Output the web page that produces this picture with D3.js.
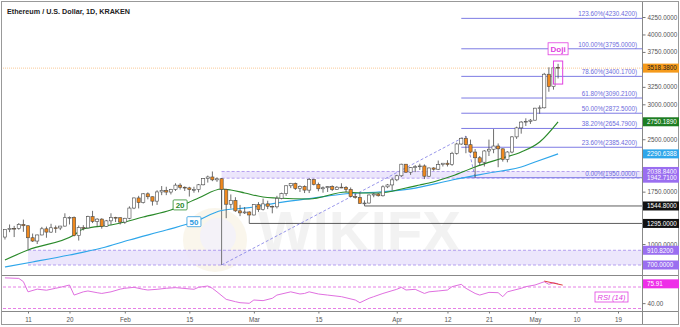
<!DOCTYPE html>
<html>
<head>
<meta charset="utf-8">
<script src="https://cdn.jsdelivr.net/npm/d3@7"></script>
<style>
  html, body { margin: 0; padding: 0; background: #fff; }
  svg { display: block; font-family: "Liberation Sans", Arial, sans-serif; }
</style>
</head>
<body>
<svg id="chart" width="680" height="327"></svg>
<script>
// ---- Daily ETH/USD candles, first candle on startDate, one per day ----
const startDate = "2021-01-06";
const opens = [
  1100,1208,1225,1224,1281,1262,1090,1043,1130,1218,1171,1233,1230,1257,1377,1382,1121,1236,1231,1392,1324,1357,1253,1332,1382,1377,
  1314,1369,1515,1660,1594,1719,1677,1614,1746,1769,1744,1783,1843,1813,1804,1779,1781,1848,1938,1960,1919,1935,1781,1570,1626,1475,1446,1459,
  1416,1564,1492,1575,1541,1533,1654,1723,1834,1868,1795,1825,1772,1924,1854,1791,1806,1823,1782,1814,1812,1782,1681,1668,1582,1587,1702,1716,1691,1819,1846,
  1919,1977,2143,2028,2093,2107,2118,1971,2089,2071,2136,2157,2139,2299,2432,2514,2422,2317,2235,2171,2332,2357,2403,2363,2211,2317,2534,2663,2746,2757,
  2773,2945,2950,3431,3253,3530
];
const highs = [
  1210,1280,1260,1300,1350,1265,1150,1135,1245,1250,1290,1265,1260,1440,1395,1395,1265,1270,1405,1475,1370,1370,1345,1440,1390,1380,
  1375,1540,1665,1690,1730,1740,1680,1770,1830,1820,1790,1870,1870,1825,1820,1820,1860,1945,1980,2038.84,1955,1940,1790,1710,1670,1560,1530,1470,
  1570,1600,1650,1620,1550,1690,1735,1840,1875,1880,1840,1840,1945,1935,1880,1825,1830,1840,1830,1870,1830,1810,1725,1740,1625,1710,1730,1730,1840,1860,1950,
  1990,2150,2145,2100,2130,2150,2140,2095,2100,2195,2160,2200,2320,2450,2525,2545,2495,2360,2260,2345,2495,2645,2440,2370,2330,2545,2680,2760,2800,2790,
  2950,2985,3450,3530,3540,3580
];
const lows = [
  1065,1170,1100,1205,1175,920,1030,1000,1125,1090,1160,1160,1200,1250,1280,1110,1050,1195,1225,1300,1250,1220,1245,1275,1315,1280,
  1290,1355,1500,1510,1580,1640,1550,1560,1700,1700,1710,1760,1780,1760,1680,1735,1740,1840,1880,1900,1890,1500,1370,1510,1460,1400,1430,1295,
  1410,1460,1480,1500,1440,1510,1640,1690,1800,1775,1745,1730,1730,1840,1755,1735,1745,1760,1775,1800,1740,1670,1650,1580,1544.8,1580,1670,1680,1680,1800,1770,
  1900,1960,2020,1990,2030,2060,1930,1960,2050,2060,2110,2110,2120,2280,2420,2300,2300,1950,2120,2110,2260,2300,2100,2180,2170,2300,2505,2580,2690,2720,
  2765,2865,2940,3180,3210,3370
];
const closes = [
  1208,1225,1224,1281,1262,1090,1043,1130,1218,1171,1233,1230,1257,1377,1382,1121,1236,1231,1392,1324,1357,1253,1332,1382,1377,1314,
  1369,1515,1660,1594,1719,1677,1614,1746,1769,1744,1783,1843,1813,1804,1779,1781,1848,1938,1960,1919,1935,1781,1570,1626,1475,1446,1459,1416,
  1564,1492,1575,1541,1533,1654,1723,1834,1868,1795,1825,1772,1924,1854,1791,1806,1823,1782,1814,1812,1782,1681,1668,1582,1587,1702,1716,1691,1819,1846,1919,
  1977,2143,2028,2093,2107,2118,1971,2089,2071,2136,2157,2139,2299,2432,2514,2422,2317,2235,2171,2332,2357,2403,2363,2211,2317,2534,2663,2746,2757,2773,
  2945,2950,3431,3253,3522,3518.38
];

// ---- Moving averages (date, value) ----
const sma20 = [
  ["2021-01-06",772],["2021-01-11",915],["2021-01-21",1129],["2021-01-23",1215],["2021-01-29",1273],
  ["2021-02-01",1315],["2021-02-05",1387],["2021-02-11",1487],["2021-02-17",1659],["2021-02-22",1788],
  ["2021-02-24",1774],["2021-02-27",1731],["2021-03-03",1673],["2021-03-06",1659],["2021-03-13",1645],
  ["2021-03-21",1745],["2021-03-24",1731],["2021-03-28",1731],["2021-04-03",1802],["2021-04-06",1845],
  ["2021-04-08",1874],["2021-04-13",1974],["2021-04-18",2103],["2021-04-24",2232],["2021-04-28",2318],
  ["2021-05-02",2461],["2021-05-06",2750.189]
];
const sma50 = [
  ["2021-01-06",671],["2021-01-12",743],["2021-01-20",843],["2021-01-27",943],["2021-02-02",1058],
  ["2021-02-10",1201],["2021-02-16",1315],["2021-02-22",1480],["2021-02-28",1520],["2021-03-06",1590],
  ["2021-03-13",1650],["2021-03-21",1720],["2021-03-28",1745],["2021-04-04",1790],["2021-04-13",1917],
  ["2021-04-21",2017],["2021-04-28",2103],["2021-05-01",2174],["2021-05-06",2290.6388]
];

// ---- RSI(14) readings (date, value) ----
const rsi14 = [
  ["2021-01-06",87],["2021-01-09",86],["2021-01-10",80],["2021-01-11",61],["2021-01-13",66],["2021-01-15",64],
  ["2021-01-17",67.6],["2021-01-18",69.4],["2021-01-20",73.7],["2021-01-21",55],["2021-01-23",61],["2021-01-24",62.6],
  ["2021-01-26",59.4],["2021-01-27",58],["2021-01-29",61],["2021-01-31",66],["2021-02-01",67.6],["2021-02-03",69.4],
  ["2021-02-05",65.7],["2021-02-06",64.4],["2021-02-08",65.7],["2021-02-10",67.6],["2021-02-12",68.8],["2021-02-16",65.7],
  ["2021-02-17",69.4],["2021-02-19",71.9],["2021-02-20",67.6],["2021-02-21",61],["2021-02-23",47],["2021-02-25",42.7],
  ["2021-02-26",40.8],["2021-02-28",39.7],["2021-03-01",45.8],["2021-03-03",44.6],["2021-03-05",49],["2021-03-06",55],
  ["2021-03-09",61],["2021-03-11",57],["2021-03-12",58],["2021-03-13",61],["2021-03-15",57],["2021-03-17",55],
  ["2021-03-20",52],["2021-03-23",45.8],["2021-03-24",40.8],["2021-03-26",49],["2021-03-27",52],["2021-03-29",58],
  ["2021-04-01",65.7],["2021-04-02",69.4],["2021-04-03",64.4],["2021-04-05",65.7],["2021-04-07",58],["2021-04-08",61],
  ["2021-04-10",62.6],["2021-04-12",64.4],["2021-04-13",70.6],["2021-04-15",75],["2021-04-16",67.6],["2021-04-18",58],
  ["2021-04-19",55],["2021-04-21",60],["2021-04-23",59.4],["2021-04-24",52],["2021-04-25",61],["2021-04-28",67.6],
  ["2021-04-29",70.6],["2021-05-01",73.7],["2021-05-03",79.8],["2021-05-04",75],["2021-05-05",78],["2021-05-06",75.91]
];

// ---- Fibonacci extension (A = 700, B = 2545, C = 1950) ----
const fibRatios = ["123.60%","100.00%","78.60%","61.80%","50.00%","38.20%","23.60%","0.00%"];
const fibPrices = [4230.42, 3795, 3400.17, 3090.21, 2872.5, 2654.79, 2385.42, 1950];
const fibPath = [["2021-02-22",700],["2021-04-16",2545],["2021-04-18",1950]];

// ---- Support / resistance drawings ----
const zones = [
  {from: "2021-02-22", low: 1942.71, high: 2038.84},
  {from: "2021-01-11", low: 700, high: 910.82}
];
const levels = [
  {from: "2021-03-25", value: 1544.8},
  {from: "2021-02-28", value: 1295}
];

// ---- Axis labels ----
const priceTicks = [4250, 4000, 3750, 3250, 3000, 2500, 1750, 1000];
const tickDates = ["2021-01-11","2021-01-20","2021-02-01","2021-02-15","2021-03-01","2021-03-15",
                   "2021-04-01","2021-04-12","2021-04-21","2021-05-01","2021-05-10","2021-05-19"];
const tickLabels = ["11","20","Feb","15","Mar","15","Apr","12","21","May","10","19"];

// ---- Price tags on the right scale ----
const priceTags = [
  {v: 3518.38,   text: "3518.3800", bg: "#f59a1b", fg: "#222"},
  {v: 2750.189,  text: "2750.1890", bg: "#1d7d22", fg: "#fff"},
  {v: 2290.6388, text: "2290.6388", bg: "#2ea6ea", fg: "#fff"},
  {v: 2038.84,   text: "2038.8400", bg: "#9a6ef0", fg: "#fff"},
  {v: 1942.71,   text: "1942.7100", bg: "#9a6ef0", fg: "#fff"},
  {v: 1544.8,    text: "1544.8000", bg: "#111",    fg: "#fff"},
  {v: 1295,      text: "1295.0000", bg: "#111",    fg: "#fff"},
  {v: 910.82,    text: "910.8200",  bg: "#9a6ef0", fg: "#fff"},
  {v: 700,       text: "700.0000",  bg: "#9a6ef0", fg: "#fff"}
];
const rsiTicks = [40];
const rsiLast = 75.91;

// ================= drawing =================
const svg = d3.select("#chart");
const parse = d3.utcParse("%Y-%m-%d");
const day0 = parse(startDate);
const candles = closes.map((c, i) => ({
  date: d3.utcDay.offset(day0, i), o: opens[i], h: highs[i], l: lows[i], c
}));

const L = 3, R = 642, PT = 3, PB = 275, RT = 276, RB = 311;
const x = d3.scaleUtc().domain([parse("2021-01-11"), parse("2021-05-19")]).range([28, 618]);
const y = d3.scaleLinear().domain([700, 4250]).range([265, 17]);
const yr = d3.scaleLinear().domain([30, 70]).range([308.5, 287]);

const defs = svg.append("defs");
defs.append("clipPath").attr("id", "clipP").append("rect")
  .attr("x", L).attr("y", PT).attr("width", R - L).attr("height", PB - PT);
defs.append("clipPath").attr("id", "clipR").append("rect")
  .attr("x", L).attr("y", RT).attr("width", R - L).attr("height", RB - RT);

svg.append("rect").attr("width", 680).attr("height", 327).attr("fill", "#fff");

// watermark
const wm = svg.append("g").attr("opacity", 0.4);
wm.append("circle").attr("cx", 215).attr("cy", 240).attr("r", 32).attr("fill", "#f3ead0");
wm.append("circle").attr("cx", 218).attr("cy", 236).attr("r", 18).attr("fill", "#e4e0ee");
wm.append("text").attr("x", 258).attr("y", 252).attr("font-size", 58).attr("font-weight", 700)
  .attr("fill", "#e0e0e0").attr("font-family", "Liberation Sans, Arial").text("WIKIFX");

const P = svg.append("g").attr("clip-path", "url(#clipP)");

// zones
zones.forEach(z => {
  const x0 = x(parse(z.from));
  P.append("rect").attr("x", x0).attr("y", y(z.high)).attr("width", R - x0)
    .attr("height", y(z.low) - y(z.high)).attr("fill", "#e9e2fb").attr("opacity", 0.85);
  [z.high, z.low].forEach(v => P.append("line").attr("x1", x0).attr("x2", R)
    .attr("y1", y(v)).attr("y2", y(v)).attr("stroke", "#a58bec").attr("stroke-width", 0.8)
    .attr("stroke-dasharray", "3,2"));
});

// vertical marker at the swing low
P.append("line").attr("x1", x(parse("2021-02-22"))).attr("x2", x(parse("2021-02-22")))
  .attr("y1", y(700)).attr("y2", y(1942.71)).attr("stroke", "#555").attr("stroke-width", 0.8);

// horizontal levels
levels.forEach(l => P.append("line").attr("x1", x(parse(l.from))).attr("x2", R)
  .attr("y1", y(l.value)).attr("y2", y(l.value)).attr("stroke", "#333").attr("stroke-width", 0.8));

// fibonacci levels
const fibX0 = x(parse("2021-04-15"));
fibPrices.forEach((v, i) => {
  P.append("line").attr("x1", fibX0).attr("x2", R).attr("y1", y(v)).attr("y2", y(v))
    .attr("stroke", "#7d7be4").attr("stroke-width", 1);
  P.append("text").attr("x", 637).attr("y", y(v) - 2).attr("text-anchor", "end")
    .attr("font-size", 6.3).attr("fill", "#6d6bdc")
    .text(`${fibRatios[i]}(${d3.format(".4f")(v)})`);
});
P.append("path").attr("d", d3.line().x(d => x(parse(d[0]))).y(d => y(d[1]))(fibPath))
  .attr("fill", "none").attr("stroke", "#7d7be4").attr("stroke-width", 0.8).attr("stroke-dasharray", "3,2");

// last price line
P.append("line").attr("x1", L).attr("x2", R).attr("y1", y(3518.38)).attr("y2", y(3518.38))
  .attr("stroke", "#f6b26b").attr("stroke-width", 0.7).attr("stroke-dasharray", "1,1");

// moving averages
const maLine = d3.line().x(d => x(parse(d[0]))).y(d => y(d[1])).curve(d3.curveMonotoneX);
P.append("path").attr("d", maLine(sma50)).attr("fill", "none").attr("stroke", "#2ea6ea").attr("stroke-width", 1.2);
P.append("path").attr("d", maLine(sma20)).attr("fill", "none").attr("stroke", "#2a8a2a").attr("stroke-width", 1.2);

// candles
const cg = P.append("g");
cg.selectAll("line.w").data(candles).join("line")
  .attr("x1", d => x(d.date)).attr("x2", d => x(d.date))
  .attr("y1", d => y(d.h)).attr("y2", d => y(d.l)).attr("stroke", "#4a4a4a").attr("stroke-width", 0.8);
cg.selectAll("rect.b").data(candles).join("rect")
  .attr("x", d => x(d.date) - 1.6).attr("width", 3.2)
  .attr("y", d => y(Math.max(d.o, d.c)))
  .attr("height", d => Math.max(0.8, Math.abs(y(d.o) - y(d.c))))
  .attr("fill", d => d.c >= d.o ? "#fff" : "#f0891d")
  .attr("stroke", "#4a4a4a").attr("stroke-width", 0.6);

// MA labels
function maTag(txt, date, v, color) {
  const cx = x(parse(date)), cy = y(v);
  P.append("rect").attr("x", cx - 7).attr("y", cy - 5).attr("width", 14).attr("height", 10)
    .attr("fill", "#fff").attr("stroke", color).attr("stroke-width", 0.8).attr("rx", 1);
  P.append("text").attr("x", cx).attr("y", cy + 3).attr("text-anchor", "middle")
    .attr("font-size", 8).attr("font-weight", 700).attr("fill", color).text(txt);
}
maTag("20", "2021-02-13", 1560, "#2a8a2a");
maTag("50", "2021-02-16", 1320, "#2e9be0");

// doji highlight
const last = candles[candles.length - 1];
P.append("rect").attr("x", x(d3.utcDay.offset(last.date, -1))).attr("y", y(3620))
  .attr("width", x(d3.utcDay.offset(last.date, 1)) - x(d3.utcDay.offset(last.date, -1)))
  .attr("height", y(3290) - y(3620)).attr("fill", "none").attr("stroke", "#e040e0").attr("stroke-width", 1);
P.append("rect").attr("x", x(last.date) - 10).attr("y", y(3795) - 6).attr("width", 20).attr("height", 12)
  .attr("fill", "#fff").attr("stroke", "#e040e0").attr("stroke-width", 0.8);
P.append("text").attr("x", x(last.date)).attr("y", y(3795) + 3).attr("text-anchor", "middle")
  .attr("font-size", 8).attr("font-weight", 700).attr("fill", "#e040e0").text("Doji");

// RSI panel
const RG = svg.append("g").attr("clip-path", "url(#clipR)");
[70, 30].forEach(v => RG.append("line").attr("x1", L).attr("x2", R).attr("y1", yr(v)).attr("y2", yr(v))
  .attr("stroke", "#e060e0").attr("stroke-width", 0.8).attr("stroke-dasharray", "3,2"));
RG.append("path").attr("d", d3.line().x(d => x(parse(d[0]))).y(d => yr(d[1]))(rsi14))
  .attr("fill", "none").attr("stroke", "#e070e0").attr("stroke-width", 1);
RG.append("path").attr("d", d3.line().x(d => x(parse(d[0]))).y(d => yr(d[1]))([["2021-05-03", 81], ["2021-05-07", 73.5]]))
  .attr("fill", "none").attr("stroke", "#e04040").attr("stroke-width", 1);
RG.append("rect").attr("x", 595).attr("y", 292).attr("width", 33).attr("height", 10)
  .attr("fill", "#fff").attr("stroke", "#e040e0").attr("stroke-width", 0.8);
RG.append("text").attr("x", 611.5).attr("y", 300).attr("text-anchor", "middle").attr("font-style", "italic")
  .attr("font-size", 7.5).attr("fill", "#e040e0").text("RSI (14)");

// panel frames
svg.append("line").attr("x1", 2).attr("x2", 678).attr("y1", 275.5).attr("y2", 275.5).attr("stroke", "#888");
svg.append("line").attr("x1", 2).attr("x2", 678).attr("y1", 311.5).attr("y2", 311.5).attr("stroke", "#888");
svg.append("line").attr("x1", R + 0.5).attr("x2", R + 0.5).attr("y1", 2).attr("y2", 325).attr("stroke", "#888");
svg.append("rect").attr("x", 1.5).attr("y", 1.5).attr("width", 677).attr("height", 323)
  .attr("fill", "none").attr("stroke", "#999");

// right price axis
const ya = svg.append("g").attr("transform", `translate(${R + 0.5},0)`)
  .call(d3.axisRight(y).tickValues(priceTicks).tickFormat(d3.format(".4f")).tickSize(3));
ya.select(".domain").remove();
ya.selectAll("text").attr("font-size", 6.3).attr("fill", "#555").attr("x", 5);
ya.selectAll("line").attr("stroke", "#777");

const ra = svg.append("g").attr("transform", `translate(${R + 0.5},0)`)
  .call(d3.axisRight(yr).tickValues(rsiTicks).tickFormat(d3.format(".2f")).tickSize(3));
ra.select(".domain").remove();
ra.selectAll("text").attr("font-size", 6.3).attr("fill", "#555").attr("x", 5);
ra.selectAll("line").attr("stroke", "#777");

function tag(v, text, bg, fg, scale) {
  const cy = scale(v);
  svg.append("rect").attr("x", R + 1).attr("y", cy - 4.5).attr("width", 36).attr("height", 9).attr("fill", bg);
  svg.append("text").attr("x", R + 5).attr("y", cy + 2.3).attr("font-size", 6.3).attr("fill", fg).text(text);
}
priceTags.forEach(t => tag(t.v, t.text, t.bg, t.fg, y));
tag(rsiLast, "75.91", "#ee2ee8", "#fff", yr);

// bottom time axis
const xa = svg.append("g").attr("transform", `translate(0,${RB + 0.5})`)
  .call(d3.axisBottom(x).tickValues(tickDates.map(parse)).tickFormat((d, i) => tickLabels[i]).tickSize(2));
xa.select(".domain").remove();
xa.selectAll("text").attr("font-size", 6.3).attr("fill", "#555").attr("dy", "0.9em");
xa.selectAll("line").attr("stroke", "#777");

// title
svg.append("text").attr("x", 7).attr("y", 14).attr("font-size", 7.2).attr("font-weight", 600)
  .attr("fill", "#222").text("Ethereum / U.S. Dollar, 1D, KRAKEN");
</script>
</body>
</html>
